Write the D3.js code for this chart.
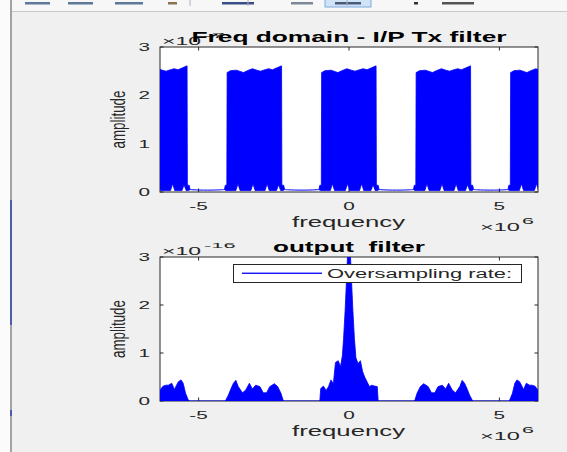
<!DOCTYPE html>
<html>
<head>
<meta charset="utf-8">
<script src="https://cdn.jsdelivr.net/npm/d3@7/dist/d3.min.js"></script>
<style>
  html, body { margin: 0; padding: 0; background: #f0f0f0; overflow: hidden; }
  svg { display: block; }
  text { font-family: "Liberation Sans", Arial, Helvetica, sans-serif; fill: #262626; white-space: pre; }
</style>
</head>
<body>
<div id="chart"></div>
<script>
// frequencies are in units of 1e6 (axis shows x10^6)
const xTicks = [-5, 0, 5]
const yTicks = [0, 1, 2, 3]
const xLimit = [-6.2832, 6.2832]
const yLimit = [0, 3]

// pass bands repeat around these centre frequencies
const bandCenters = [-6.2832, -3.1416, 0, 3.1416, 6.2832]
const gapCenters = [-4.7124, -1.5708, 1.5708, 4.7124]

// Freq domain - I/P Tx filter (x10^-7): envelope of the dense oscillation inside one band
const txUpperOffsets = [-1.0, -0.97, -0.92, -0.91, -0.80, -0.60, -0.45, -0.37, -0.20, -0.07, 0.08, 0.20, 0.35, 0.47, 0.60, 0.75, 0.90, 0.91, 0.97, 1.0]
const txUpperValues  = [0.05, 0.14, 0.14, 2.47, 2.51, 2.52, 2.49, 2.47, 2.52, 2.55, 2.52, 2.50, 2.53, 2.55, 2.53, 2.57, 2.61, 0.14, 0.14, 0.05]
const txLowerOffsets = [-1.0, -0.95, -0.62, -0.55, -0.48, -0.12, -0.05, 0.02, 0.35, 0.42, 0.49, 0.73, 0.80, 0.87, 0.95, 1.0]
const txLowerValues  = [0.05, 0.03, 0.03, 0.17, 0.03, 0.03, 0.17, 0.03, 0.03, 0.17, 0.03, 0.03, 0.15, 0.03, 0.03, 0.05]
// stop band between two pass bands
const txGapOffsets = [-0.571, -0.45, -0.25, 0, 0.25, 0.45, 0.571]
const txGapValues  = [0.05, 0.045, 0.04, 0.038, 0.04, 0.045, 0.05]

// output filter (x10^-16)
const outCenterOffsets = [-0.97, -0.94, -0.85, -0.76, -0.68, -0.60, -0.52, -0.45, -0.36, -0.28, -0.22, -0.18, -0.13, -0.08, -0.03, 0, 0.03, 0.08, 0.13, 0.18, 0.23, 0.30, 0.38, 0.45, 0.52, 0.60, 0.68, 0.76, 0.85, 0.94, 0.97]
const outCenterValues  = [0, 0.26, 0.31, 0.22, 0.30, 0.44, 0.36, 0.80, 0.84, 0.72, 0.95, 1.30, 1.87, 2.56, 3.30, 3.50, 3.30, 2.56, 1.87, 1.30, 0.90, 0.78, 0.84, 0.62, 0.50, 0.40, 0.30, 0.33, 0.31, 0.30, 0]
// band at -pi (band at +pi is its mirror)
const outSideOffsets = [-0.97, -0.87, -0.78, -0.70, -0.62, -0.54, -0.40, -0.29, -0.17, -0.07, 0.04, 0.18, 0.29, 0.40, 0.51, 0.66, 0.77, 0.88, 0.96]
const outSideValues  = [0, 0.12, 0.26, 0.37, 0.43, 0.30, 0.17, 0.23, 0.37, 0.25, 0.33, 0.30, 0.17, 0.17, 0.30, 0.36, 0.30, 0.16, 0]
// band at -2pi (band at +2pi is its mirror)
const outEdgeOffsets = [-0.05, 0.0, 0.06, 0.11, 0.20, 0.28, 0.39, 0.48, 0.55, 0.61, 0.70, 0.77, 0.85, 0.92, 0.96]
const outEdgeValues  = [0.22, 0.22, 0.28, 0.31, 0.33, 0.33, 0.37, 0.24, 0.33, 0.40, 0.44, 0.37, 0.16, 0.05, 0]

const legendLabel = "Oversampling rate:"

/* ______________________________ Set-Up ______________________________ */
const W = 567, H = 452
const blue = "#0000ff"
const plotLeft = 160, plotRight = 538

const svg = d3.select("#chart").append("svg")
    .attr("width", W).attr("height", H)

// window chrome
svg.append("rect").attr("x", 0).attr("y", 0).attr("width", W).attr("height", H).attr("fill", "#f0f0f0")
svg.append("rect").attr("x", 12).attr("y", 0).attr("width", W - 12).attr("height", 11).attr("fill", "#f7f7f7")
svg.append("line").attr("x1", 12).attr("x2", W).attr("y1", 11.5).attr("y2", 11.5).attr("stroke", "#c9c9c9")
svg.append("rect").attr("x", 0).attr("y", 0).attr("width", 10).attr("height", H).attr("fill", "#fbfbfb")
svg.append("line").attr("x1", 11).attr("x2", 11).attr("y1", 0).attr("y2", H).attr("stroke", "#8a8a8a").attr("stroke-width", 1.5)
svg.append("line").attr("x1", 11).attr("x2", 11).attr("y1", 200).attr("y2", 325).attr("stroke", "#3445a8").attr("stroke-width", 1.5)
svg.append("line").attr("x1", 11).attr("x2", 11).attr("y1", 410).attr("y2", 416).attr("stroke", "#3445a8").attr("stroke-width", 1.5)
const icons = [[25, 25, "#5d7898"], [68, 25, "#5d7898"], [115, 28, "#5d7898"], [168, 9, "#8a7450"], [222, 32, "#3a4f8a"], [291, 22, "#7c8896"], [335, 26, "#4a5a78"], [414, 4, "#333"], [442, 32, "#555"]]
svg.append("rect").attr("x", 325).attr("y", -1).attr("width", 46).attr("height", 8).attr("fill", "#cfe3f6").attr("stroke", "#7fa9dc")
icons.forEach(d => svg.append("rect").attr("x", d[0]).attr("y", 2).attr("width", d[1]).attr("height", 2.5).attr("fill", d[2]))
;[190, 248, 347].forEach(x => svg.append("line").attr("x1", x).attr("x2", x).attr("y1", 0).attr("y2", 6).attr("stroke", "#b0b0b0"))

// horizontally stretched text (the figure was captured wider than it was drawn)
function stretch(sel, anchor, width) {
  sel.each(function () {
    const w = typeof width === "number" ? width : this.getComputedTextLength() * 1.8
    const x = +this.getAttribute("x")
    this.setAttribute("textLength", w)
    this.setAttribute("lengthAdjust", "spacingAndGlyphs")
    this.setAttribute("text-anchor", "start")
    if (anchor === "middle") this.setAttribute("x", x - w / 2)
    if (anchor === "end") this.setAttribute("x", x - w)
  })
  return sel
}

/* ______________________________ Axes ______________________________ */
function drawAxes(cfg) {
  const x = d3.scaleLinear().domain(xLimit).range([plotLeft, plotRight])
  const y = d3.scaleLinear().domain(yLimit).range([cfg.bottom, cfg.top])
  const g = svg.append("g")

  g.append("rect")
      .attr("x", plotLeft).attr("y", cfg.top)
      .attr("width", plotRight - plotLeft).attr("height", cfg.bottom - cfg.top)
      .attr("fill", "#fff")

  g.append("clipPath").attr("id", cfg.id)
    .append("rect")
      .attr("x", plotLeft).attr("y", cfg.top)
      .attr("width", plotRight - plotLeft).attr("height", cfg.bottom - cfg.top)

  // ticks on all four sides, pointing inwards
  const tl = 3.5
  const tickG = g.append("g").attr("stroke", "#262626").attr("stroke-width", 1)
  xTicks.forEach(t => {
    tickG.append("line").attr("x1", x(t)).attr("x2", x(t)).attr("y1", cfg.bottom).attr("y2", cfg.bottom - tl)
    tickG.append("line").attr("x1", x(t)).attr("x2", x(t)).attr("y1", cfg.top).attr("y2", cfg.top + tl)
  })
  yTicks.forEach(t => {
    tickG.append("line").attr("x1", plotLeft).attr("x2", plotLeft + tl).attr("y1", y(t)).attr("y2", y(t))
    tickG.append("line").attr("x1", plotRight).attr("x2", plotRight - tl).attr("y1", y(t)).attr("y2", y(t))
  })
  g.append("rect")
      .attr("x", plotLeft).attr("y", cfg.top)
      .attr("width", plotRight - plotLeft).attr("height", cfg.bottom - cfg.top)
      .attr("fill", "none").attr("stroke", "#262626").attr("stroke-width", 1)

  // tick labels
  g.selectAll(".xt").data(xTicks).enter().append("text")
      .attr("class", "xt")
      .attr("x", d => x(d)).attr("y", cfg.bottom + 17.5)
      .style("font-size", "11.5px")
      .text(d => d)
      .call(stretch, "middle")
  g.selectAll(".yt").data(yTicks).enter().append("text")
      .attr("class", "yt")
      .attr("x", 150).attr("y", d => y(d) + 4)
      .style("font-size", "11.5px")
      .text(d => d)
      .call(stretch, "end")

  // exponents
  g.append("text").attr("x", 162).attr("y", cfg.top - 2).style("font-size", "11px").text("\u00d710").call(stretch, "start", 39)
  g.append("text").attr("x", 204).attr("y", cfg.top - 9.5).style("font-size", "8px").text(cfg.exponent).call(stretch, "start", cfg.exponent.length * 10.5)
  g.append("text").attr("x", 480).attr("y", cfg.bottom + 39).style("font-size", "11px").text("\u00d710").call(stretch, "start", 40)
  g.append("text").attr("x", 522).attr("y", cfg.bottom + 32).style("font-size", "8.5px").text("6").call(stretch, "start", 12)

  // labels
  g.append("text").attr("x", 348.5).attr("y", cfg.bottom + 35)
      .style("font-size", "14px")
      .text("frequency").call(stretch, "middle", 113)
  g.append("text")
      .attr("transform", "translate(125," + ((cfg.top + cfg.bottom) / 2) + ") scale(1.3,1) rotate(-90)")
      .attr("x", 0).attr("y", 0)
      .style("font-size", "15px")
      .text("amplitude").call(stretch, "middle", 58)
  g.append("text").attr("x", 349).attr("y", cfg.top - 5)
      .style("font-size", "14px").style("font-weight", "bold").style("fill", "#000")
      .text(cfg.title).call(stretch, "middle", cfg.titleWidth)

  return { x, y, g }
}

/* ______________________________ Top: I/P Tx filter ______________________________ */
const txAx = drawAxes({ id: "clipTop", top: 47, bottom: 192, title: "Freq domain - I/P Tx filter", titleWidth: 315, exponent: "-7" })
const topData = txAx.g.append("g").attr("clip-path", "url(#clipTop)")
const topLine = d3.line().x(d => txAx.x(d[0])).y(d => txAx.y(d[1]))
const gapLine = d3.line().x(d => txAx.x(d[0])).y(d => txAx.y(d[1])).curve(d3.curveBasis)

bandCenters.forEach(c => {
  const upper = txUpperOffsets.map((o, i) => [c + o, txUpperValues[i]])
  const lower = txLowerOffsets.map((o, i) => [c + o, txLowerValues[i]]).reverse()
  topData.append("path")
      .attr("d", topLine(upper.concat(lower)) + "Z")
      .attr("fill", blue).attr("stroke", blue).attr("stroke-width", 0.8)
      .attr("stroke-linejoin", "round")
})
gapCenters.forEach(c => {
  topData.append("path")
      .attr("d", gapLine(txGapOffsets.map((o, i) => [c + o, txGapValues[i]])))
      .attr("fill", "none").attr("stroke", blue).attr("stroke-width", 1)
})

/* ______________________________ Bottom: output filter ______________________________ */
const outAx = drawAxes({ id: "clipBot", top: 257, bottom: 401, title: "output  filter", titleWidth: 152, exponent: "-16" })
const botData = outAx.g.append("g").attr("clip-path", "url(#clipBot)")
const botArea = d3.area().x(d => outAx.x(d[0])).y0(outAx.y(0)).y1(d => outAx.y(d[1]))

botData.append("line")
    .attr("x1", outAx.x(xLimit[0])).attr("x2", outAx.x(xLimit[1]))
    .attr("y1", outAx.y(0)).attr("y2", outAx.y(0))
    .attr("stroke", blue).attr("stroke-width", 1.2)

const bandShapes = [
  { c: bandCenters[0], off: outEdgeOffsets, val: outEdgeValues, flip: 1 },
  { c: bandCenters[1], off: outSideOffsets, val: outSideValues, flip: 1 },
  { c: bandCenters[2], off: outCenterOffsets, val: outCenterValues, flip: 1 },
  { c: bandCenters[3], off: outSideOffsets, val: outSideValues, flip: -1 },
  { c: bandCenters[4], off: outEdgeOffsets, val: outEdgeValues, flip: -1 }
]
bandShapes.forEach(b => {
  const pts = b.off.map((o, i) => [b.c + b.flip * o, b.val[i]]).sort((p, q) => p[0] - q[0])
  botData.append("path")
      .attr("d", botArea(pts))
      .attr("fill", blue).attr("stroke", blue).attr("stroke-width", 0.8)
      .attr("stroke-linejoin", "round")
})

// legend
const lg = outAx.g.append("g")
lg.append("rect").attr("x", 233.5).attr("y", 264.5).attr("width", 288).attr("height", 18)
    .attr("fill", "#fff").attr("stroke", "#262626").attr("stroke-width", 1)
lg.append("rect").attr("x", 242).attr("y", 272.6).attr("width", 80).attr("height", 1.3)
    .attr("fill", blue)
lg.append("text").attr("x", 327).attr("y", 278)
    .style("font-size", "12.5px")
    .text(legendLabel).call(stretch, "start", 185)
</script>
</body>
</html>
